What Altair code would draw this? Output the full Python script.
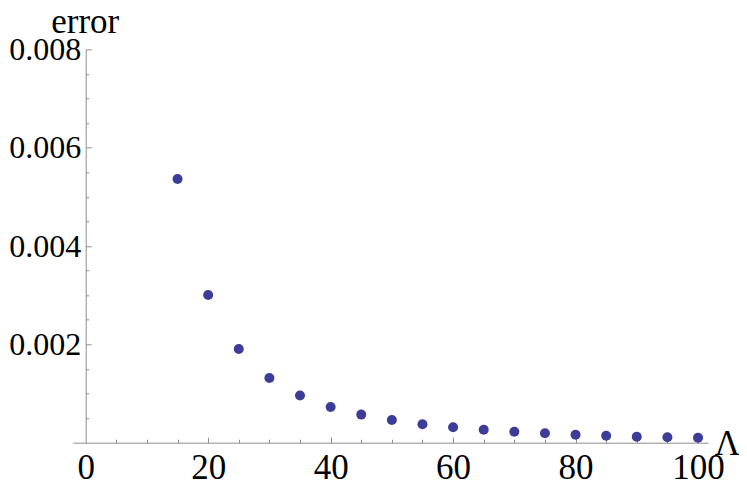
import altair as alt
import pandas as pd

# data
lam = [15, 20, 25, 30, 35, 40, 45, 50, 55, 60, 65, 70, 75, 80, 85, 90, 95, 100]
err = [0.005362, 0.003004, 0.001905, 0.001316, 0.000960, 0.000726, 0.000571,
       0.000462, 0.000374, 0.000313, 0.000264, 0.000224, 0.000191, 0.000163,
       0.000142, 0.000122, 0.000110, 0.000102]

x_labels = [0, 20, 40, 60, 80, 100]
x_major = [20, 40, 60, 80, 100]
x_minor = [5, 10, 15, 25, 30, 35, 45, 50, 55, 65, 70, 75, 85, 90, 95]
y_labels = [0.002, 0.004, 0.006, 0.008]
y_major = [0.002, 0.004, 0.006, 0.008]
y_minor = [0.0005, 0.001, 0.0015, 0.0025, 0.003, 0.0035, 0.0045, 0.005,
           0.0055, 0.0065, 0.007, 0.0075]

df = pd.DataFrame({"lam": lam, "err": err})

W, H = 635, 393.4
X0 = 12.7  # pixel offset of x=0 from the left of the plot area
FONT = "Liberation Serif"
FS = 35
FSY = 32
GRAY = "#8f8f8f"
PT = "#3d3d99"

xs = alt.Scale(domain=[-2.074, 101.63], nice=False, zero=False)
ys = alt.Scale(domain=[0, 0.008], nice=False, zero=False)

base = alt.Chart(df)

points = base.mark_circle(size=100, color=PT, opacity=1).encode(
    x=alt.X("lam:Q", scale=xs, axis=alt.Axis(
        orient="bottom", values=x_labels, format="d", grid=False,
        domain=True, domainColor=GRAY, domainWidth=1,
        ticks=False, tickSize=0, labelPadding=36.3, labelBaseline="alphabetic",
        labelFont=FONT, labelFontSize=FS, labelColor="black",
        labelFlush=False, labelOverlap=False,
        title="Λ", titleX=654, titleY=12.3, titleAlign="center",
        titleBaseline="alphabetic", titleFont=FONT, titleFontSize=FS,
        titleFontWeight="normal", titleColor="black", titleAngle=0)),
    y=alt.Y("err:Q", scale=ys, axis=alt.Axis(
        orient="left", offset=-X0, values=y_labels, format=".3f", grid=False,
        domain=False, ticks=False, tickSize=0, labelPadding=5,
        labelBaseline="middle", labelFont=FONT, labelFontSize=FSY,
        labelColor="black", labelFlush=False, labelOverlap=False,
        title="error", titleAngle=0, titleX=-1, titleY=-17.3,
        titleAlign="center", titleBaseline="alphabetic", titleFont=FONT,
        titleFontSize=FS, titleFontWeight="normal", titleColor="black")),
)

major = base.mark_circle(opacity=0).encode(
    x=alt.X("lam:Q", scale=xs, axis=alt.Axis(
        orient="top", offset=-H, values=x_major, grid=False, domain=False,
        labels=False, ticks=True, tickSize=5.5, tickColor=GRAY, tickWidth=1,
        title=None)),
    y=alt.Y("err:Q", scale=ys, axis=alt.Axis(
        orient="right", offset=-(W - X0), values=y_major, grid=False,
        domain=True, domainColor=GRAY, domainWidth=1,
        labels=False, ticks=True, tickSize=5.5, tickColor=GRAY, tickWidth=1,
        title=None)),
)

minor = base.mark_circle(opacity=0).encode(
    x=alt.X("lam:Q", scale=xs, axis=alt.Axis(
        orient="top", offset=-H, values=x_minor, grid=False, domain=False,
        labels=False, ticks=True, tickSize=3.5, tickColor=GRAY, tickWidth=1,
        title=None)),
    y=alt.Y("err:Q", scale=ys, axis=alt.Axis(
        orient="right", offset=-(W - X0), values=y_minor, grid=False,
        domain=False, labels=False, ticks=True, tickSize=3, tickColor=GRAY,
        tickWidth=1, title=None)),
)

chart = alt.layer(minor, major, points).resolve_axis(
    x="independent", y="independent"
).properties(
    width=W, height=H, background="white",
    padding={"left": 65, "top": 41.3, "right": 31, "bottom": 36.3},
    autosize=alt.AutoSizeParams(type="none"),
).configure_view(strokeWidth=0, stroke="transparent")

chart.save("out.html", embed_options={"renderer": "svg", "actions": False})
